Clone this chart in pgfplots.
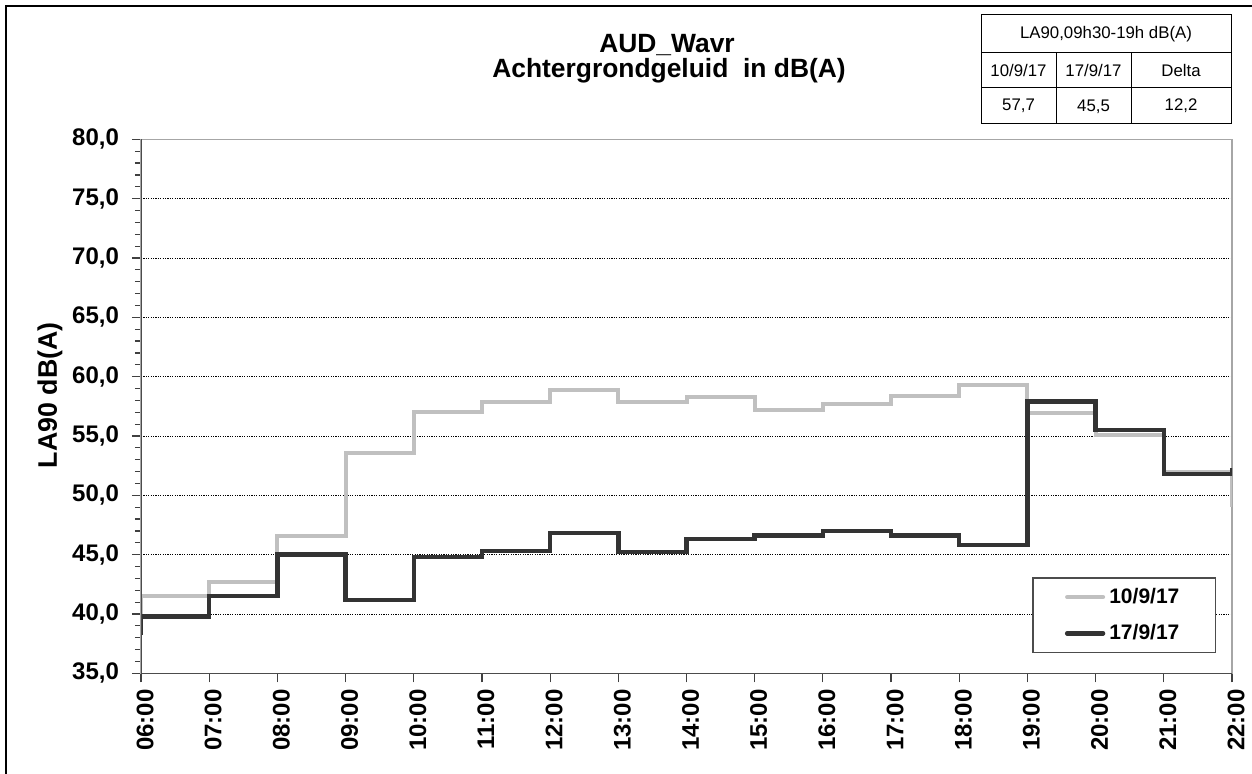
\documentclass[border=0pt]{standalone}
\usepackage{fontspec}
\setmainfont{Liberation Sans}
\usepackage{pgfplots}
\pgfplotsset{compat=1.18}
\definecolor{lightser}{RGB}{192,192,192}
\definecolor{darkser}{RGB}{51,51,51}
\begin{document}
\begin{tikzpicture}
\useasboundingbox (0,0) rectangle (626pt,-387pt);
\begin{scope}[x=0.5pt,y=-0.5pt]
\draw[line width=1.2pt] (6,6) rectangle (1275,790);
% title
\node[anchor=base,font=\fontsize{13.2}{15}\selectfont\bfseries] at (667,52.7) {AUD\_Wavr};
\node[anchor=base,font=\fontsize{13.2}{15}\selectfont\bfseries] at (669,78) {Achtergrondgeluid\ \ in dB(A)};
% table
\draw[line width=0.5pt] (981,15) rectangle (1231,124);
\draw[line width=0.5pt] (981,53) -- (1231,53);
\draw[line width=0.5pt] (981,88) -- (1231,88);
\draw[line width=0.5pt] (1056,53) -- (1056,124);
\draw[line width=0.5pt] (1131,53) -- (1131,124);
\begin{scope}[every node/.style={font=\fontsize{8.4}{10}\selectfont}]
\node at (1106,34) {LA90,09h30-19h dB(A)};
\node at (1018.5,70.5) {10/9/17};
\node at (1093.5,70.5) {17/9/17};
\node at (1181,70.5) {Delta};
\node at (1018.5,106) {57,7};
\node at (1093.5,107) {45,5};
\node at (1181,106) {12,2};
\end{scope}
\end{scope}
\begin{axis}[
  at={(70.5pt,-336.65pt)}, anchor=south west,
  scale only axis, width=545.5pt, height=267pt,
  xmin=6, xmax=22, ymin=35, ymax=80,
  xtick={6,7,...,22},
  xticklabels={06:00,07:00,08:00,09:00,10:00,11:00,12:00,13:00,14:00,15:00,16:00,17:00,18:00,19:00,20:00,21:00,22:00},
  ytick={35,40,...,80},
  minor y tick num=4,
  tick align=outside,
  major tick length=4.5pt, minor tick length=3pt,
  tick style={black!75, line width=0.6pt},
  xtick pos=bottom, ytick pos=left,
  ymajorgrids,
  major grid style={black, line width=0.4pt, dash pattern=on 0.6pt off 0.6pt},
  axis line style={gray!70, line width=0.6pt},
  /pgf/number format/.cd, fixed, fixed zerofill, precision=1, use comma, assume math mode=true, /pgfplots/.cd,
  ticklabel style={font=\fontsize{12}{14}\selectfont\bfseries},
  xticklabel style={rotate=90, anchor=east, yshift=-2pt},
  yticklabel style={xshift=-3pt},
  ylabel={LA90 dB(A)},
  ylabel style={at={(axis description cs:-0.0834,0.521)}, anchor=center, font=\fontsize{13.4}{15}\selectfont\bfseries},
  legend cell align=left,
  legend style={at={(0.9853,0.038)}, anchor=south east, draw=black!70, line width=0.6pt,
    font=\fontsize{10.5}{12}\selectfont\bfseries, inner xsep=16pt, inner ysep=3pt, row sep=5pt},
]
\addplot[const plot, color=lightser, line width=2pt,
  legend image code/.code={\draw[color=lightser, line width=2pt, line cap=round] (0pt,0pt) -- (18pt,0pt);}]
  coordinates {(5,40.0) (6,41.5) (7,42.7) (8,46.6) (9,53.6) (10,57.0) (11,57.9) (12,58.9) (13,57.9) (14,58.3) (15,57.2) (16,57.7) (17,58.4) (18,59.3) (19,56.9) (20,55.1) (21,52.0) (22,49.0)};
\addlegendentry{10/9/17}
\addplot[const plot, color=darkser, line width=2.2pt,
  legend image code/.code={\draw[color=darkser, line width=2.2pt, line cap=round] (0pt,0pt) -- (18pt,0pt);}]
  coordinates {(5,38.4) (6,39.8) (7,41.5) (8,45.0) (9,41.2) (10,44.8) (11,45.3) (12,46.8) (13,45.2) (14,46.3) (15,46.6) (16,47.0) (17,46.6) (18,45.8) (19,57.9) (20,55.5) (21,51.8) (22,52.3)};
\addlegendentry{17/9/17}
\draw[black!70, line width=0.8pt] (rel axis cs:0,1) -- (rel axis cs:0,0) -- (rel axis cs:1,0);
\end{axis}
\end{tikzpicture}
\end{document}
